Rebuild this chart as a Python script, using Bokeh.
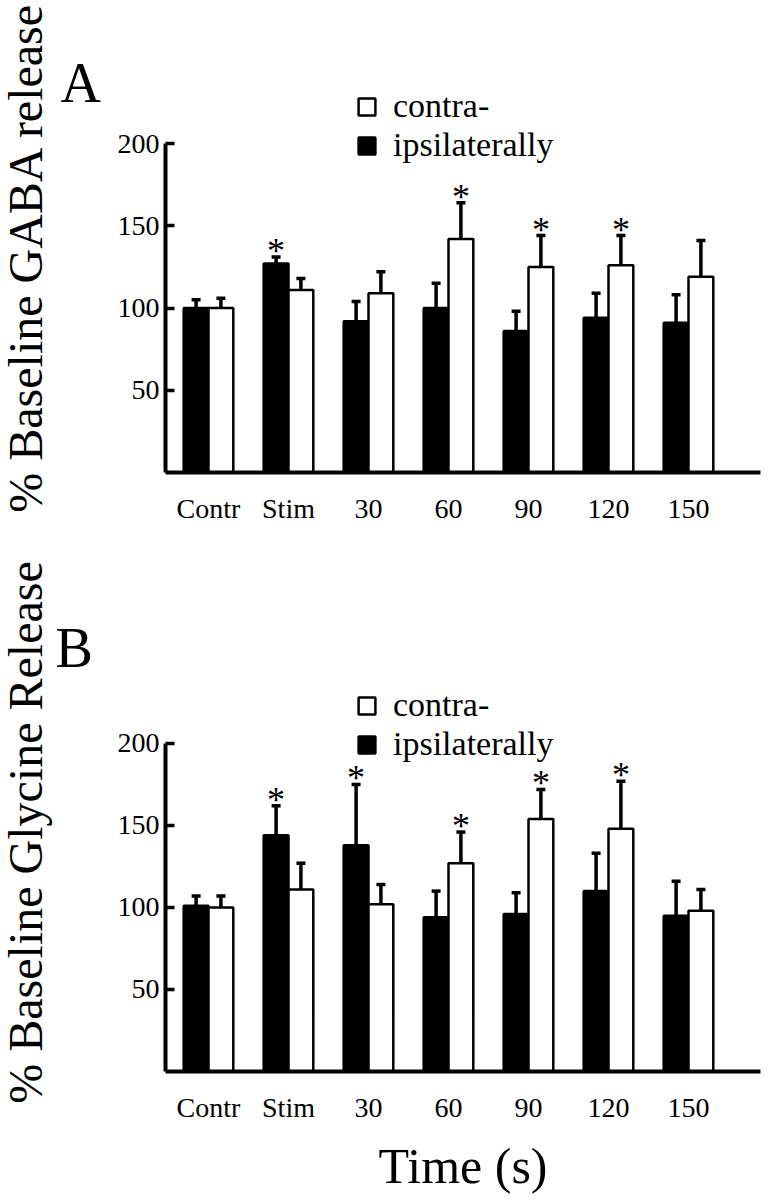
import math
from bokeh.plotting import figure
from bokeh.models import ColumnDataSource, FixedTicker, Label, Legend, LegendItem, Range1d
from bokeh.layouts import column, row
from bokeh.core.properties import value
from bokeh.embed import file_html
from bokeh.resources import INLINE

# ---------------- data ----------------
categories = ["Contr", "Stim", "30", "60", "90", "120", "150"]

gaba_ipsi = [100, 127, 92, 100, 86, 94, 91]
gaba_ipsi_err = [5, 4, 12, 15, 12, 15, 17]
gaba_contra = [100, 111, 109, 142, 125, 126, 119]
gaba_contra_err = [6, 7, 13, 22, 19, 18, 22]
gaba_ipsi_sig = [False, True, False, False, False, False, False]
gaba_contra_sig = [False, False, False, True, True, True, False]

gly_ipsi = [101, 144, 138, 94, 96, 110, 95]
gly_ipsi_err = [6, 18, 37, 16, 13, 23, 21]
gly_contra = [100, 111, 102, 127, 154, 148, 98]
gly_contra_err = [7, 16, 12, 19, 18, 29, 13]
gly_ipsi_sig = [False, True, True, False, False, False, False]
gly_contra_sig = [False, False, False, True, True, True, False]

y_ticks = [50, 100, 150, 200]

FONT = "Liberation Serif"
BAR_W = 0.31
OFF = 0.155
GUTTER_W = 110
MAIN_W = 660
A_H = 560
B_H = 638


def make_legend(label, renderer, loc):
    return Legend(items=[LegendItem(label=label, renderers=[renderer])],
                  location=loc, glyph_width=21, glyph_height=21, label_standoff=16,
                  spacing=0, padding=0, margin=0, border_line_alpha=0,
                  background_fill_alpha=0, label_text_font=FONT,
                  label_text_font_size="34px", label_text_color="black")


def panel(height, top, bottom, ymax, ipsi, ipsi_err, contra, contra_err, ipsi_sig,
          contra_sig, contra_loc, ipsi_loc, xlabel=None):
    p = figure(width=MAIN_W, height=height, output_backend="svg", toolbar_location=None,
               x_range=Range1d(-0.5375, 6.9), y_range=Range1d(0, ymax),
               min_border_left=55, min_border_right=10, min_border_top=top,
               min_border_bottom=bottom)
    p.outline_line_color = None
    p.xgrid.grid_line_color = None
    p.ygrid.grid_line_color = None

    idx = list(range(len(categories)))
    xi = [i - OFF for i in idx]
    xc = [i + OFF for i in idx]

    src_i = ColumnDataSource(dict(x=xi, top=ipsi, etop=[v + e for v, e in zip(ipsi, ipsi_err)]))
    src_c = ColumnDataSource(dict(x=xc, top=contra, etop=[v + e for v, e in zip(contra, contra_err)]))

    for s in (src_i, src_c):
        p.segment(x0="x", y0="top", x1="x", y1="etop", source=s, line_color="black", line_width=3.5)
        p.scatter(x="x", y="etop", source=s, marker="dash", size=9, line_color="black",
                  line_width=3.5)

    r_i = p.vbar(x="x", top="top", bottom=0, width=BAR_W, source=src_i,
                 fill_color="black", line_color="black", line_width=2.5)
    r_c = p.vbar(x="x", top="top", bottom=0, width=BAR_W, source=src_c,
                 fill_color="white", line_color="black", line_width=2.5)

    sx = [x for x, s in zip(xi, ipsi_sig) if s] + [x for x, s in zip(xc, contra_sig) if s]
    sy = [v + e for v, e, s in zip(ipsi, ipsi_err, ipsi_sig) if s] + \
         [v + e for v, e, s in zip(contra, contra_err, contra_sig) if s]
    p.text(x=sx, y=sy, text=["*"] * len(sx), text_align="center", text_baseline="alphabetic",
           y_offset=-6, text_font=value(FONT), text_font_size="36px", text_color="black")

    for ax in (p.xaxis, p.yaxis):
        ax.axis_line_color = "black"
        ax.axis_line_width = 4
        ax.minor_tick_line_color = None
        ax.major_label_text_font = FONT
        ax.major_label_text_font_size = "28px"
        ax.major_label_text_color = "black"

    p.yaxis.ticker = FixedTicker(ticks=y_ticks)
    p.yaxis.bounds = (0, 200)
    p.yaxis.major_tick_in = 9
    p.yaxis.major_tick_out = 0
    p.yaxis.major_tick_line_color = "black"
    p.yaxis.major_tick_line_width = 3.5
    p.yaxis.major_label_standoff = 6

    p.xaxis.ticker = FixedTicker(ticks=idx)
    p.xaxis.major_label_overrides = {i: c for i, c in enumerate(categories)}
    p.xaxis.major_tick_line_color = None
    p.xaxis.major_label_standoff = 14
    if xlabel:
        p.xaxis.axis_label = xlabel
        p.xaxis.axis_label_text_font = FONT
        p.xaxis.axis_label_text_font_size = "50px"
        p.xaxis.axis_label_text_font_style = "normal"
        p.xaxis.axis_label_text_color = "black"
        p.xaxis.axis_label_standoff = 12

    p.add_layout(make_legend("contra-", r_c, contra_loc))
    p.add_layout(make_legend("ipsilaterally", r_i, ipsi_loc))
    return p


# panel A: frame from y=80 to y=472 ; panel B: frame from y=680 to y=1071 (page pixels)
pa = panel(A_H, 80, 88, 238.3, gaba_ipsi, gaba_ipsi_err, gaba_contra, gaba_contra_err,
           gaba_ipsi_sig, gaba_contra_sig, (191, 347), (191, 308))
pb = panel(B_H, 120, 127, 238.4, gly_ipsi, gly_ipsi_err, gly_contra, gly_contra_err,
           gly_ipsi_sig, gly_contra_sig, (191, 347), (191, 308), xlabel="Time (s)")

# left gutter holding the panel letters and the rotated y-axis titles
g = figure(width=GUTTER_W, height=A_H + B_H, output_backend="svg", toolbar_location=None,
           x_range=Range1d(0, GUTTER_W), y_range=Range1d(A_H + B_H, 0),
           min_border=0, min_border_left=0, min_border_right=0, min_border_top=0,
           min_border_bottom=0)
g.axis.visible = False
g.grid.visible = False
g.outline_line_color = None
for txt, x, y, size, ang in [("A", 60, 82, "56px", 0), ("B", 55, 647, "56px", 0),
                             ("% Baseline GABA release", 25, 257, "48px", math.pi / 2),
                             ("% Baseline Glycine Release", 25, 832, "48px", math.pi / 2)]:
    g.add_layout(Label(x=x, y=y, text=txt, text_font=FONT, text_font_size=size,
                       angle=ang, text_align="left" if ang == 0 else "center",
                       text_baseline="alphabetic", text_color="black"))

layout = row(g, column(pa, pb, spacing=0), spacing=0)
open("out.html", "w").write(file_html(layout, INLINE))
